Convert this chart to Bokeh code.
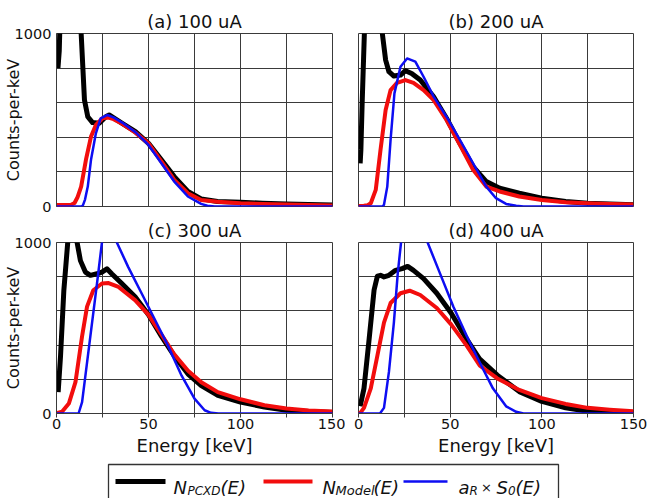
import math
from bokeh.plotting import figure
from bokeh.models import Range1d, FixedTicker
from bokeh.layouts import column, row
from bokeh.embed import file_html
from bokeh.resources import INLINE
from bokeh.core.properties import value

FONT = "DejaVu Sans"

# ---------------- data ----------------
panel_titles = ["(a) 100 uA", "(b) 200 uA", "(c) 300 uA", "(d) 400 uA"]
x_ticks = [0, 25, 50, 75, 100, 125, 150]
x_tick_labels = ["0", "", "50", "", "100", "", "150"]
y_ticks = [0, 200, 400, 600, 800, 1000]
y_tick_labels = ["0", "", "", "", "", "1000"]
x_label = "Energy [keV]"
y_label = "Counts-per-keV"

series_colors = ["#000000", "#f20d0d", "#0d0df2"]
series_widths = [5, 4, 2.5]

# (a) 100 uA
black_a_E = [0.8, 1.5, 2.5, 5, 9, 12.5, 13.4, 15.2, 17, 19.6, 23.2, 26.8, 28.6, 35.7, 42.9, 50, 57, 64, 71.4, 78.6, 87.5, 100, 112, 125, 137, 150]
black_a = [800, 900, 1300, 2200, 1800, 1100, 1000, 615, 519, 485, 481, 519, 529, 481, 433, 365, 270, 173, 87, 44, 29, 25, 19, 15, 11, 8]
red_a_E = [0, 5, 8, 9.8, 11.5, 13.4, 16, 18.75, 21.4, 25, 27.7, 31, 35.7, 42.9, 50, 57, 64, 71.4, 78.6, 87.5, 100, 112, 125, 137, 150]
red_a = [8, 8, 10, 20, 55, 115, 270, 404, 471, 510, 515, 505, 478, 427, 365, 260, 154, 77, 38, 27, 19, 15, 12, 9, 6]
blue_a_E = [0, 13.5, 14.3, 15.5, 17, 18.75, 21.4, 24, 27.7, 31, 35.7, 42.9, 50, 57, 64, 71.4, 78.6, 82, 86, 100, 150]
blue_a = [0, 0, 5, 40, 115, 270, 423, 510, 529, 515, 485, 430, 356, 250, 144, 58, 15, 4, 0, 0, 0]

# (b) 200 uA
black_b_E = [0.9, 1.3, 2, 3.5, 6, 10, 13, 14.8, 16.6, 19.3, 22.9, 25.6, 29, 33.7, 40.9, 48, 55.3, 62.5, 69.7, 77, 87.7, 100, 113, 125, 137, 150]
black_b = [250, 327, 600, 1100, 2500, 2000, 1000, 846, 779, 754, 760, 785, 769, 731, 635, 510, 365, 231, 144, 106, 77, 48, 29, 19, 14, 10]
red_b_E = [0, 3, 5, 6.7, 9.4, 12, 14.8, 17.5, 21, 25.6, 30, 35.5, 41, 48, 55.3, 62.5, 69.7, 77, 87.7, 100, 113, 125, 137, 150]
red_b = [3, 4, 8, 19, 96, 327, 558, 673, 715, 731, 715, 673, 615, 500, 356, 212, 115, 87, 58, 38, 25, 19, 15, 12]
blue_b_E = [0, 13, 13.9, 15.7, 17.5, 19.6, 22.9, 26.5, 31, 35.5, 41, 48, 55.3, 62.5, 69.7, 75, 80.5, 86, 90, 150]
blue_b = [0, 0, 10, 115, 385, 654, 808, 856, 837, 750, 635, 519, 385, 250, 115, 48, 15, 4, 0, 0]

# (c) 300 uA
black_c_E = [0.9, 2.2, 4, 6.1, 8, 10, 11.2, 13, 15.7, 18.4, 22, 24.7, 27.4, 30, 35.5, 42.7, 50, 57, 64, 71.5, 78.7, 87.7, 100, 113, 125, 137, 150]
black_c = [125, 337, 721, 1000, 1600, 1400, 1000, 894, 827, 808, 817, 827, 846, 817, 760, 683, 577, 452, 337, 231, 163, 106, 67, 38, 19, 12, 6]
red_c_E = [0, 3, 6.7, 10.3, 13.9, 16.6, 20, 24.7, 28.3, 33.7, 42.7, 50, 57, 64, 71.5, 78.7, 87.7, 100, 113, 125, 137, 150]
red_c = [2, 10, 58, 183, 452, 625, 721, 760, 763, 740, 663, 577, 462, 346, 250, 183, 125, 83, 48, 29, 18, 12]
blue_c_E = [0, 12, 13.9, 16.6, 19.3, 22, 24.7, 28.7, 32.8, 39, 46.3, 53.5, 60.7, 68, 75, 80.5, 84, 88, 150]
blue_c = [0, 0, 67, 298, 529, 760, 1000, 1250, 1000, 856, 702, 548, 394, 221, 87, 19, 4, 0, 0]

# (d) 400 uA
black_d_E = [0.9, 3, 5.8, 8.5, 10.3, 12, 13.9, 16.6, 20.2, 23.8, 26.8, 30, 35.5, 42.7, 50.5, 59, 66, 75.7, 87.7, 100, 113, 125, 137, 150]
black_d = [42, 147, 435, 722, 803, 808, 799, 808, 837, 847, 860, 837, 789, 703, 588, 435, 320, 224, 128, 71, 33, 13, 9, 6]
red_d_E = [0, 1, 3, 6.7, 10.3, 13.9, 17.5, 22.9, 27.9, 33.7, 42.7, 50.5, 59, 66, 75.7, 87.7, 100, 113, 125, 137, 150]
red_d = [2, 4, 33, 147, 339, 531, 646, 703, 718, 693, 617, 521, 397, 282, 205, 138, 90, 56, 33, 22, 13]
blue_d_E = [0, 11.7, 13.9, 16.6, 19.3, 21.4, 23.2, 30, 37.7, 44.5, 51.7, 59, 66, 73.3, 80.5, 86, 90, 150]
blue_d = [0, 0, 33, 243, 531, 818, 1000, 1400, 1000, 818, 626, 454, 301, 147, 42, 10, 0, 0]

panel_series = [
    [(black_a_E, black_a), (red_a_E, red_a), (blue_a_E, blue_a)],
    [(black_b_E, black_b), (red_b_E, red_b), (blue_b_E, blue_b)],
    [(black_c_E, black_c), (red_c_E, red_c), (blue_c_E, blue_c)],
    [(black_d_E, black_d), (red_d_E, red_d), (blue_d_E, blue_d)],
]

# ---------------- layout ----------------
ORIGIN_X = 0
LEFT_FRAME_W, RIGHT_FRAME_W = 277, 275
LEFT_B_L, LEFT_B_R = 55, 13
RIGHT_B_L, RIGHT_B_R = 13, 14
TOP_B_T, TOP_FRAME_H, TOP_B_B = 33, 173, 10
BOT_B_T, BOT_FRAME_H, BOT_B_B = 23, 174, 49
LEG_H = 36
GRID_COLOR = "#3a3a3a"
TEXT_COLOR = "#111111"


def make_panel(idx, show_x, show_y):
    bl, fw, br = (LEFT_B_L, LEFT_FRAME_W, LEFT_B_R) if show_y else (RIGHT_B_L, RIGHT_FRAME_W, RIGHT_B_R)
    bt, fh, bb = (BOT_B_T, BOT_FRAME_H, BOT_B_B) if show_x else (TOP_B_T, TOP_FRAME_H, TOP_B_B)
    p = figure(width=bl + fw + br, height=bt + fh + bb,
               x_range=Range1d(0, 150), y_range=Range1d(0, 1000),
               output_backend="svg", toolbar_location=None,
               min_border_left=bl, min_border_right=br,
               min_border_top=bt, min_border_bottom=bb)
    p.title.text = panel_titles[idx]
    p.title.align = "center"
    p.title.text_font = FONT
    p.title.text_font_size = "18px"
    p.title.text_font_style = "normal"
    p.title.text_color = TEXT_COLOR
    p.title.standoff = 3
    p.outline_line_color = GRID_COLOR
    p.outline_line_width = 1
    p.background_fill_color = "white"
    p.border_fill_color = "white"

    xt = FixedTicker(ticks=x_ticks)
    yt = FixedTicker(ticks=y_ticks)
    p.xaxis.ticker = xt
    p.yaxis.ticker = yt
    p.xgrid.ticker = xt
    p.ygrid.ticker = yt
    p.grid.grid_line_color = GRID_COLOR
    p.grid.grid_line_width = 1

    for ax in (p.xaxis[0], p.yaxis[0]):
        ax.axis_line_color = GRID_COLOR
        ax.major_tick_in = 0
        ax.minor_tick_line_color = None
        ax.major_label_text_font = FONT
        ax.major_label_text_font_size = "14.5px"
        ax.major_label_text_color = TEXT_COLOR
        ax.major_tick_line_color = GRID_COLOR

    p.xaxis.major_label_overrides = {t: l for t, l in zip(x_ticks, x_tick_labels)}
    p.yaxis.major_label_overrides = {t: l for t, l in zip(y_ticks, y_tick_labels)}
    p.xaxis.major_tick_out = 4
    p.xaxis.major_label_standoff = 1
    p.yaxis.major_tick_out = 0
    p.yaxis.major_label_standoff = 5

    if show_x:
        p.xaxis.axis_label = x_label
        p.xaxis.axis_label_text_font = FONT
        p.xaxis.axis_label_text_font_size = "18px"
        p.xaxis.axis_label_text_font_style = "normal"
        p.xaxis.axis_label_text_color = TEXT_COLOR
        p.xaxis.axis_label_standoff = 3
    else:
        p.xaxis.visible = False

    if show_y:
        p.yaxis.axis_label = y_label
        p.yaxis.axis_label_text_font = FONT
        p.yaxis.axis_label_text_font_size = "16px"
        p.yaxis.axis_label_text_font_style = "normal"
        p.yaxis.axis_label_text_color = TEXT_COLOR
        p.yaxis.axis_label_standoff = -11
    else:
        p.yaxis.visible = False

    for (ex, vy), col, lw in zip(panel_series[idx], series_colors, series_widths):
        p.line(ex, vy, line_color=col, line_width=lw, line_join="round")
    return p


pa = make_panel(0, False, True)
pb = make_panel(1, False, False)
pc = make_panel(2, True, True)
pd = make_panel(3, True, False)

# ---------------- legend (manual, for subscripts) ----------------
TOTAL_W = LEFT_B_L + LEFT_FRAME_W + LEFT_B_R + RIGHT_B_L + RIGHT_FRAME_W + RIGHT_B_R
LEG_BOTTOM = 498  # page y of legend figure bottom
leg = figure(width=TOTAL_W, height=LEG_H, x_range=Range1d(0, TOTAL_W), y_range=Range1d(0, LEG_H),
             output_backend="svg", toolbar_location=None, min_border=0)
leg.min_border_left = leg.min_border_right = leg.min_border_top = leg.min_border_bottom = 0
leg.axis.visible = False
leg.grid.visible = False
leg.outline_line_color = None


def px(x):
    return x - ORIGIN_X


def py(y):
    return LEG_BOTTOM - y


legend_box = dict(left=108, right=558, top=464)
leg.quad(left=[px(legend_box["left"])], right=[px(legend_box["right"])],
         top=[py(legend_box["top"])], bottom=[-20], fill_color=None,
         line_color="#333333", line_width=1.3)

legend_lines = [(115, 165, series_colors[0], 5), (263, 312, series_colors[1], 4), (403, 447, series_colors[2], 2.5)]
LINE_Y = 481
for x0, x1, col, lw in legend_lines:
    leg.line([px(x0), px(x1)], [py(LINE_Y), py(LINE_Y)], line_color=col, line_width=lw)

MAIN_BASE = 486.5
SUB_BASE = 490
legend_texts = [
    ("N", 173, "18px", MAIN_BASE, "italic"),
    ("PCXD", 187, "12px", SUB_BASE, "italic"),
    ("(E)", 220, "18px", MAIN_BASE, "italic"),
    ("N", 322, "18px", MAIN_BASE, "italic"),
    ("Model", 335, "13px", SUB_BASE, "italic"),
    ("(E)", 373, "18px", MAIN_BASE, "italic"),
    ("a", 458, "18px", MAIN_BASE, "italic"),
    ("R", 469, "12px", SUB_BASE, "italic"),
    ("\u00d7", 480.5, "13px", MAIN_BASE, "normal"),
    ("S", 496, "18px", MAIN_BASE, "italic"),
    ("0", 507.5, "12px", SUB_BASE, "italic"),
    ("(E)", 515, "18px", MAIN_BASE, "italic"),
]
for txt, x, fs, base, style in legend_texts:
    leg.text(x=[px(x)], y=[py(base)], text=[txt], text_font=value(FONT), text_font_size=value(fs),
             text_font_style=value(style), text_align="left", text_baseline="alphabetic",
             text_color=TEXT_COLOR)

layout = column(row(pa, pb), row(pc, pd), leg)

open("out.html", "w").write(file_html(layout, INLINE))
